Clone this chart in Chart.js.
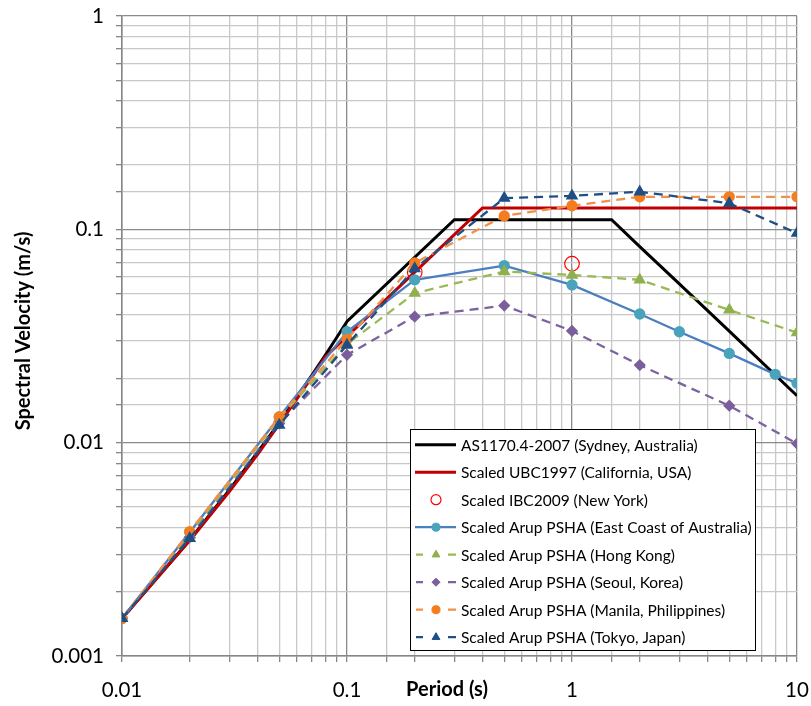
<!DOCTYPE html>
<html>
<head>
<meta charset="utf-8">
<script src="https://cdn.jsdelivr.net/npm/chart.js@4"></script>
<style>
  html, body { margin: 0; padding: 0; background: #fff; }
  #wrap { width: 811px; height: 706px; position: relative; }
</style>
</head>
<body>
<div id="wrap"><canvas id="chart-espectro" width="811" height="706"></canvas></div>
<script>
// periods (s) and spectral velocities (m/s)
const periodosAS = [0.01, 0.02, 0.03, 0.04, 0.05, 0.06, 0.07, 0.08, 0.09, 0.1, 0.3, 1.5, 2, 3, 5, 10]
const velAS = [0.0015, 0.0035, 0.006, 0.009, 0.0124, 0.0164, 0.0208, 0.0257, 0.0311, 0.037, 0.111, 0.111, 0.083, 0.0555, 0.0333, 0.0166]

const periodosUBC = [0.01, 0.02, 0.03, 0.04, 0.05, 0.06, 0.07, 0.08, 0.1, 0.2, 0.4, 10]
const velUBC = [0.0015, 0.00348, 0.0059, 0.0088, 0.0122, 0.0161, 0.0204, 0.0252, 0.0315, 0.063, 0.126, 0.126]

const periodosIBC = [0.2, 1]
const velIBC = [0.063, 0.069]

const periodosPSHA = [0.01, 0.02, 0.05, 0.1, 0.2, 0.5, 1, 2, 5, 10]
const periodosEste = [0.01, 0.02, 0.05, 0.1, 0.2, 0.5, 1, 2, 3, 5, 8, 10]
const velEste = [0.0015, 0.0038, 0.0132, 0.0331, 0.058, 0.0676, 0.0549, 0.0401, 0.0331, 0.0262, 0.0209, 0.019]
const velHongKong = [0.0015, 0.0037, 0.013, 0.029, 0.0502, 0.0634, 0.0611, 0.058, 0.0419, 0.0328]
const velSeul = [0.0015, 0.0036, 0.0123, 0.0258, 0.039, 0.0439, 0.0334, 0.0231, 0.0149, 0.0099]
const velManila = [0.0015, 0.00383, 0.0132, 0.0305, 0.0696, 0.1156, 0.129, 0.142, 0.142, 0.142]
const velTokio = [0.0015, 0.00356, 0.0121, 0.0287, 0.0655, 0.14, 0.1435, 0.15, 0.1325, 0.0959]

const etiquetasX = ["0.01", "0.1", "1", "10"]
const etiquetasY = ["0.001", "0.01", "0.1", "1"]

const FUENTE = "Lato, 'Liberation Sans', sans-serif"
const DASH = [9, 6]

function puntos(xs, ys) {
    return xs.map((x, i) => ({ x: x, y: ys[i] }))
}

function esDecada(v) {
    const l = Math.log10(v)
    return Math.abs(l - Math.round(l)) < 1e-6
}

function etiquetaDecada(v, lista, expMin) {
    if (!esDecada(v)) return ""
    return lista[Math.round(Math.log10(v)) - expMin] || ""
}

const series = [
    { label: "AS1170.4-2007 (Sydney, Australia)", data: puntos(periodosAS, velAS),
      borderColor: "#000000", borderWidth: 3, pointRadius: 0, leyenda: "linea" },
    { label: "Scaled UBC1997 (California, USA)", data: puntos(periodosUBC, velUBC),
      borderColor: "#c00000", borderWidth: 3, pointRadius: 0, leyenda: "linea" },
    { label: "Scaled IBC2009 (New York)", data: puntos(periodosIBC, velIBC),
      showLine: false, borderColor: "#ff0000", backgroundColor: "rgba(0,0,0,0)",
      pointRadius: 7.3, pointBorderWidth: 1.2, pointStyle: "circle", leyenda: "marca" },
    { label: "Scaled Arup PSHA (East Coast of Australia)", data: puntos(periodosEste, velEste),
      borderColor: "#4a7ebf", borderWidth: 2.3, pointStyle: "circle", pointRadius: 4.5,
      pointBackgroundColor: "#4aa3bd", pointBorderColor: "#4aa3bd", leyenda: "linea" },
    { label: "Scaled Arup PSHA (Hong Kong)", data: puntos(periodosPSHA, velHongKong),
      borderColor: "#98b954", borderWidth: 2.3, borderDash: DASH, pointStyle: "triangle", pointRadius: 5,
      pointBackgroundColor: "#8fb04c", pointBorderColor: "#8fb04c", leyenda: "guion" },
    { label: "Scaled Arup PSHA (Seoul, Korea)", data: puntos(periodosPSHA, velSeul),
      borderColor: "#7d62a0", borderWidth: 2.3, borderDash: DASH, pointStyle: "rectRot", pointRadius: 4.5,
      pointBackgroundColor: "#7a5f9c", pointBorderColor: "#7a5f9c", leyenda: "guion" },
    { label: "Scaled Arup PSHA (Manila, Philippines)", data: puntos(periodosPSHA, velManila),
      borderColor: "#f0904a", borderWidth: 2.3, borderDash: DASH, pointStyle: "circle", pointRadius: 4.5,
      pointBackgroundColor: "#f47d20", pointBorderColor: "#f47d20", leyenda: "guion" },
    { label: "Scaled Arup PSHA (Tokyo, Japan)", data: puntos(periodosPSHA, velTokio),
      borderColor: "#1f4e85", borderWidth: 2.3, borderDash: DASH, pointStyle: "triangle", pointRadius: 5,
      pointBackgroundColor: "#1f4e85", pointBorderColor: "#1f4e85", leyenda: "guion" }
]

// later series drawn on top
series.forEach((s, i) => { s.order = series.length - i; s.tension = 0; s.fill = false })

// legend box and axis titles
const extras = {
    id: "extras",
    afterDraw(chart) {
        const ctx = chart.ctx
        ctx.save()

        // y title
        ctx.fillStyle = "#000"
        ctx.font = "bold 20px " + FUENTE
        ctx.textAlign = "center"
        ctx.textBaseline = "middle"
        ctx.translate(24, 331)
        ctx.rotate(-Math.PI / 2)
        ctx.fillText("Spectral Velocity (m/s)", 0, 0)
        ctx.setTransform(1, 0, 0, 1, 0, 0)

        // x title, on the tick label line
        ctx.fillText("Period (s)", 447, 690)

        // legend
        const bx = 410, by = 429, bw = 345, bh = 221
        ctx.fillStyle = "#fff"
        ctx.fillRect(bx, by, bw, bh)
        ctx.strokeStyle = "#000"
        ctx.lineWidth = 1
        ctx.strokeRect(bx + 0.5, by + 0.5, bw, bh)

        ctx.font = "15.5px " + FUENTE
        ctx.textAlign = "left"
        series.forEach((s, i) => {
            const y = 444.7 + i * 27.5
            ctx.setLineDash([])
            ctx.strokeStyle = s.borderColor
            ctx.lineWidth = s.borderWidth || 2
            if (s.leyenda === "linea") {
                ctx.beginPath()
                ctx.moveTo(415, y)
                ctx.lineTo(456, y)
                ctx.stroke()
            } else if (s.leyenda === "guion") {
                ctx.beginPath()
                ctx.moveTo(416, y)
                ctx.lineTo(423, y)
                ctx.moveTo(448, y)
                ctx.lineTo(456, y)
                ctx.stroke()
            }
            if (s.pointRadius) {
                const hueco = s.leyenda === "marca"
                const r = hueco ? 5 : s.pointRadius * 0.9
                ctx.fillStyle = hueco ? "rgba(0,0,0,0)" : s.pointBackgroundColor
                ctx.strokeStyle = hueco ? s.borderColor : s.pointBorderColor
                ctx.lineWidth = s.pointBorderWidth || 1
                Chart.helpers.drawPoint(ctx, {
                    pointStyle: s.pointStyle, radius: r, rotation: 0,
                    borderWidth: s.pointBorderWidth || 1
                }, 436, y)
            }
            ctx.fillStyle = "#000"
            ctx.fillText(s.label, 461, y + 1)
        })
        ctx.restore()
    }
}

const colorRejilla = ctx => esDecada(ctx.tick.value) ? "#8a8a8a" : "#c8c8c8"

new Chart(document.getElementById("chart-espectro"), {
    type: "line",
    data: { datasets: series },
    options: {
        responsive: false,
        animation: false,
        layout: { padding: { top: 16, right: 14, left: 0, bottom: 0 } },
        plugins: {
            legend: { display: false },
            tooltip: { enabled: false }
        },
        scales: {
            x: {
                type: "logarithmic",
                min: 0.01,
                max: 10,
                afterFit: s => {
                    s.height = 50
                    s.paddingLeft = 0
                    s.paddingRight = 0
                },
                border: { color: "#868686", width: 1.5 },
                grid: { color: colorRejilla, tickColor: "#868686", tickLength: 6, lineWidth: 1.3 },
                ticks: {
                    autoSkip: false,
                    maxRotation: 0,
                    padding: 16,
                    color: "#000",
                    font: { family: FUENTE, size: 20.5 },
                    callback: v => etiquetaDecada(v, etiquetasX, -2)
                }
            },
            y: {
                type: "logarithmic",
                min: 0.001,
                max: 1,
                afterFit: s => {
                    s.width = 122
                    s.paddingTop = 0
                    s.paddingBottom = 0
                },
                border: { color: "#868686", width: 1.5 },
                grid: { color: colorRejilla, tickColor: "#868686", tickLength: 6, lineWidth: 1.3 },
                ticks: {
                    autoSkip: false,
                    padding: 12,
                    color: "#000",
                    font: { family: FUENTE, size: 20.5 },
                    callback: v => etiquetaDecada(v, etiquetasY, -3)
                }
            }
        }
    },
    plugins: [extras]
})
</script>
</body>
</html>
